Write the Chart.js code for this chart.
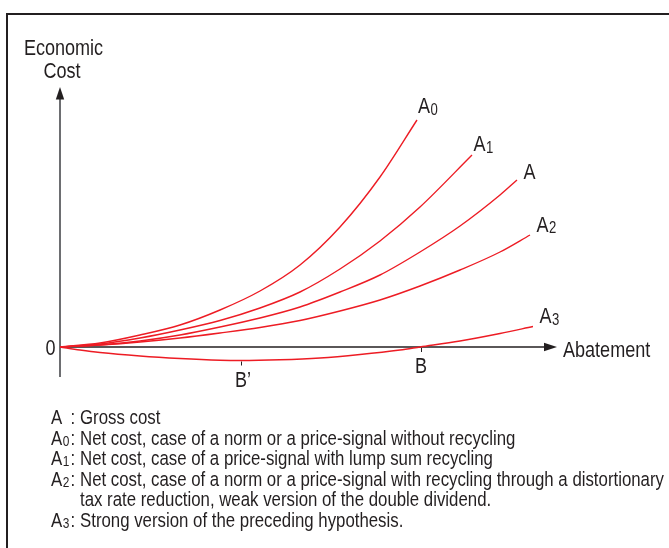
<!DOCTYPE html>
<html>
<head>
<meta charset="utf-8">
<script src="https://cdn.jsdelivr.net/npm/chart.js@4/dist/chart.umd.min.js"></script>
<style>
html,body{margin:0;padding:0;background:#fff;}
#wrap{width:669px;height:548px;position:relative;}
</style>
</head>
<body>
<div id="wrap"><canvas id="c" width="669" height="548"></canvas></div>
<script>
// ---- Data (abatement on x, economic cost on y; arbitrary units) ----
const xA0 = [0, 40, 80, 120, 160, 200, 240, 280, 320, 357];
const yA0 = [0, 4, 12, 22, 37, 56, 82, 120, 170, 227];
const xA1 = [0, 40, 80, 120, 160, 200, 240, 280, 320, 360, 412];
const yA1 = [0, 3, 9, 17, 26.5, 39, 55, 78, 106, 140, 192];
const xA  = [0, 40, 80, 120, 160, 200, 240, 280, 320, 360, 400, 440, 457];
const yA  = [0, 2, 6, 12, 20, 29, 40, 55, 72, 95, 121, 152, 167];
const xA2 = [0, 40, 80, 120, 160, 200, 240, 280, 320, 360, 400, 440, 470];
const yA2 = [0, 2, 5, 9, 14, 19.5, 26.5, 36, 47, 61, 77, 95, 112];
const xA3 = [0, 20, 40, 80, 120, 160, 180, 220, 260, 300, 340, 360, 400, 440, 473];
const yA3 = [0, -3, -5.5, -9, -11.5, -13.2, -13.5, -12.8, -11, -7.5, -3, 0, 6, 13.5, 20.5];

const seriesNames = ['A', 'A', 'A', 'A', 'A'];
const seriesSubs  = ['0', '1', '', '2', '3'];

const markerLabels = ['B\u2019', 'B'];
const markerX      = [181, 361];
const markerBase   = [-13.5, 0];

const axisTitleY = ['Economic', 'Cost'];
const axisTitleX = 'Abatement';
const originLabel = '0';

const legendSymbols = ['A', 'A', 'A', 'A', '', 'A'];
const legendSubs    = ['', '0', '1', '2', '', '3'];
const legendTexts   = [
  'Gross cost',
  'Net cost, case of a norm or a price-signal without recycling',
  'Net cost, case of a price-signal with lump sum recycling',
  'Net cost, case of a norm or a price-signal with recycling through a distortionary',
  'tax rate reduction, weak version of the double dividend.',
  'Strong version of the preceding hypothesis.'
];

// ---- Styling ----
const INK = '#231f20';
const RED = '#ed1c24';
const GREY = '#6d6e71';
const FAM = '"Liberation Sans", Arial, sans-serif';
const NARROW = 0.82; // condensed look
const F = s => s + 'px ' + FAM;
// label offsets relative to each curve's last point (pixels: dx, baseline dy)
const labelOffsets = [[1, -7], [1.5, -4], [6.5, -1], [6.5, -3.5], [6.5, -3.5]];

function txt(ctx, s, x, y, size, align) {
  ctx.save();
  ctx.font = F(size);
  const w = ctx.measureText(s).width * NARROW;
  let lx = x;
  if (align === 'center') lx = x - w / 2;
  else if (align === 'right') lx = x - w;
  ctx.translate(lx, y);
  ctx.scale(NARROW, 1);
  ctx.textAlign = 'left';
  ctx.textBaseline = 'alphabetic';
  ctx.fillText(s, 0, 0);
  ctx.restore();
  return w;
}

function pts(xs, ys) { return xs.map((v, i) => ({x: v, y: ys[i]})); }
const allX = [xA0, xA1, xA, xA2, xA3];
const allY = [yA0, yA1, yA, yA2, yA3];

const datasets = allX.map((xs, i) => ({
  label: seriesNames[i] + seriesSubs[i],
  data: pts(xs, allY[i]),
  borderColor: RED,
  borderWidth: 1.4,
  pointRadius: 0,
  fill: false,
  showLine: true,
  cubicInterpolationMode: 'monotone',
  clip: false
}));

const X_END = 497, Y_TOP = 260, Y_BOTTOM = -30;

const framePlugin = {
  id: 'frame',
  beforeDraw(chart) {
    const ctx = chart.ctx;
    ctx.save();
    ctx.fillStyle = '#fff';
    ctx.fillRect(0, 0, chart.width, chart.height);
    ctx.strokeStyle = INK;
    ctx.lineWidth = 2;
    ctx.beginPath();
    ctx.moveTo(7, chart.height);
    ctx.lineTo(7, 14);
    ctx.lineTo(chart.width, 14);
    ctx.stroke();
    ctx.restore();
  },
  beforeDatasetsDraw(chart) {
    const {ctx, scales: {x, y}} = chart;
    const x0 = x.getPixelForValue(0), y0 = y.getPixelForValue(0);
    const xe = x.getPixelForValue(X_END), yt = y.getPixelForValue(Y_TOP), yb = y.getPixelForValue(Y_BOTTOM);
    ctx.save();
    ctx.strokeStyle = GREY; ctx.lineWidth = 2;
    ctx.beginPath(); ctx.moveTo(x0, yb); ctx.lineTo(x0, yt + 11); ctx.stroke();
    ctx.fillStyle = INK;
    ctx.beginPath(); ctx.moveTo(x0, yt); ctx.lineTo(x0 - 4.2, yt + 12.5); ctx.lineTo(x0 + 4.2, yt + 12.5); ctx.closePath(); ctx.fill();
    ctx.strokeStyle = INK; ctx.lineWidth = 1.5;
    ctx.beginPath(); ctx.moveTo(x0, y0); ctx.lineTo(xe - 11, y0); ctx.stroke();
    ctx.beginPath(); ctx.moveTo(xe, y0); ctx.lineTo(xe - 13, y0 - 4.2); ctx.lineTo(xe - 13, y0 + 4.2); ctx.closePath(); ctx.fill();
    ctx.lineWidth = 1;
    markerX.forEach((mx, i) => {
      const px = Math.round(x.getPixelForValue(mx)) + 0.5;
      const py = y.getPixelForValue(markerBase[i]);
      ctx.beginPath(); ctx.moveTo(px, py + 1); ctx.lineTo(px, py + 5); ctx.stroke();
    });
    ctx.restore();
  },
  afterDraw(chart) {
    const {ctx, scales: {x, y}} = chart;
    const x0 = x.getPixelForValue(0), y0 = y.getPixelForValue(0);
    const xe = x.getPixelForValue(X_END), yt = y.getPixelForValue(Y_TOP);
    ctx.save();
    ctx.fillStyle = INK;
    txt(ctx, axisTitleY[0], x0 + 3.5, yt - 32, 22, 'center');
    txt(ctx, axisTitleY[1], x0 + 2, yt - 9, 22, 'center');
    txt(ctx, axisTitleX, xe + 6, y0 + 9.5, 22, 'left');
    txt(ctx, originLabel, x0 - 4.5, y0 + 8, 22, 'right');
    markerLabels.forEach((m, i) => {
      const px = x.getPixelForValue(markerX[i]) + (i === 0 ? 2 : 0);
      const py = y.getPixelForValue(markerBase[i]);
      txt(ctx, m, px, py + 26, 22, 'center');
    });
    allX.forEach((xs, i) => {
      const n = xs.length - 1;
      const px = x.getPixelForValue(xs[n]) + labelOffsets[i][0];
      const py = y.getPixelForValue(allY[i][n]) + labelOffsets[i][1];
      const w = txt(ctx, seriesNames[i], px, py, 22, 'left');
      if (seriesSubs[i]) txt(ctx, seriesSubs[i], px + w + 0.5, py + 1.5, 16, 'left');
    });
    const lx = 51, colonX = 70.5, textX = 80;
    legendTexts.forEach((t, i) => {
      const by = 424 + i * 20.6;
      if (legendSymbols[i]) {
        const w = txt(ctx, legendSymbols[i], lx, by, 20.5, 'left');
        if (legendSubs[i]) txt(ctx, legendSubs[i], lx + w + 0.5, by + 1, 14.5, 'left');
        txt(ctx, ':', colonX, by, 20.5, 'left');
      }
      txt(ctx, t, textX, by, 20.5, 'left');
    });
    ctx.restore();
  }
};

new Chart(document.getElementById('c'), {
  type: 'scatter',
  data: { datasets },
  options: {
    responsive: false,
    animation: false,
    devicePixelRatio: 1,
    layout: { padding: { left: 60, right: 109, top: 77, bottom: 161 } },
    scales: {
      x: { type: 'linear', min: 0, max: 500, display: false },
      y: { type: 'linear', min: -40, max: 270, display: false }
    },
    plugins: { legend: { display: false }, tooltip: { enabled: false } }
  },
  plugins: [framePlugin]
});
</script>
</body>
</html>
